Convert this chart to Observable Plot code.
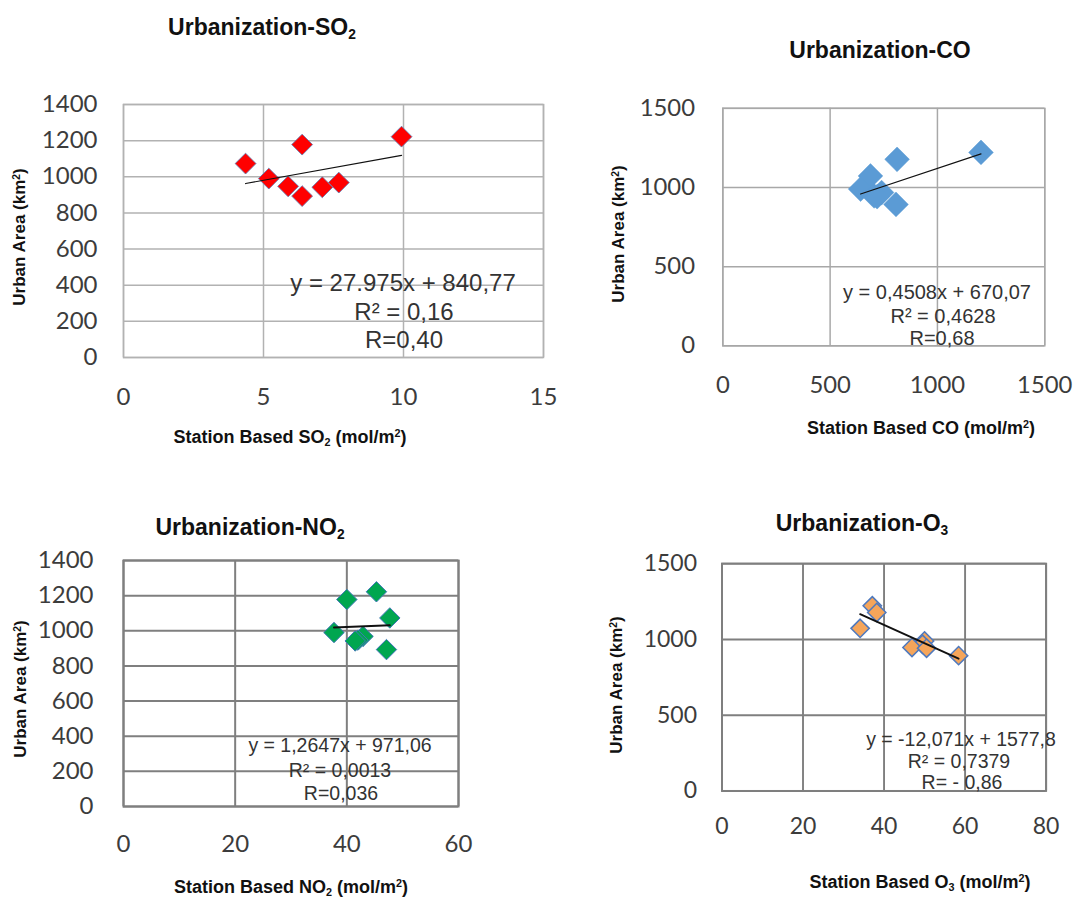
<!DOCTYPE html>
<html>
<head>
<meta charset="utf-8">
<script src="https://cdn.jsdelivr.net/npm/d3@7"></script>
<script src="https://cdn.jsdelivr.net/npm/@observablehq/plot@0.6"></script>
<style>
  html, body { margin: 0; padding: 0; background: #fff; }
  #page { position: relative; width: 1084px; height: 901px; overflow: hidden; background: #fff; }
  .abs { position: absolute; transform: translate(-50%, -50%); white-space: nowrap; }
  .title { font-family: "Liberation Sans", Arial, sans-serif; font-weight: bold; font-size: 23px; color: #111; }
  .xtitle { font-family: "Liberation Sans", Arial, sans-serif; font-weight: bold; font-size: 18px; color: #111; }
  .ytitle { font-family: "Liberation Sans", Arial, sans-serif; font-weight: bold; font-size: 17px; color: #111; transform: translate(-50%, -50%) rotate(-90deg); }
  .eq { font-family: "Liberation Sans", Arial, sans-serif; color: #333; text-align: center; }
  sub { font-size: 0.6em; vertical-align: -0.35em; line-height: 0; }
  sup { font-size: 0.6em; vertical-align: 0.5em; line-height: 0; }
  .plotbox { position: absolute; }
  .plotbox svg { overflow: visible; }
</style>
</head>
<body>
<div id="page"></div>
<script>
// ---------- data ----------
// Urban area (km²) of the eight cities
const urbanArea = [1222, 1178, 1073, 990, 968, 947, 942, 893];

// Station-based pollutant values for the same cities (mol/m²)
const so2 = [9.93, 6.38, 4.36, 5.19, 7.69, 5.88, 7.10, 6.38];
const co  = [1203, 812, 688, 642, 740, 705, 719, 807];
const no2 = [45.3, 40.0, 47.7, 37.7, 42.9, 42.0, 41.5, 47.1];
const o3  = [37.1, 38.2, 34.1, 50.0, 49.5, 46.9, 50.5, 58.4];

// Trend-line equations shown on the charts
const slopes     = [27.975, 0.4508, 1.2647, -12.071];
const intercepts = [840.77, 670.07, 971.06, 1577.8];
const eqLabels = [
  ["y = 27.975x + 840,77", "R² = 0,16", "R=0,40"],
  ["y = 0,4508x + 670,07", "R² = 0,4628", "R=0,68"],
  ["y = 1,2647x + 971,06", "R² = 0,0013", "R=0,036"],
  ["y = -12,071x + 1577,8", "R² = 0,7379", "R= - 0,86"]
];

// Tick labels
const xTicksSO2 = [0, 5, 10, 15];
const xTicksCO  = [0, 500, 1000, 1500];
const xTicksNO2 = [0, 20, 40, 60];
const xTicksO3  = [0, 20, 40, 60, 80];
const yTicks1400 = [0, 200, 400, 600, 800, 1000, 1200, 1400];
const yTicks1500 = [0, 500, 1000, 1500];

// ---------- layout ----------
const panels = [
  { xs: so2, k: 0, xTicks: xTicksSO2, yTicks: yTicks1400,
    frame: [123, 543, 104, 357], yPad: 26, xPad: 30,
    fill: "#ff0000", stroke: "#5a7db5", sw: 0.8, r: 9.4, grid: "#b2b2b2", gw: 1.5, lw: 1.2,
    title: "Urbanization-SO<sub>2</sub>", tPos: [262, 27],
    xt: "Station Based SO<sub>2</sub> (mol/m<sup>2</sup>)", xtPos: [290, 437],
    ytPos: [20, 237],
    eqPos: [[403, 283], [404, 312], [404, 340]], eqSize: 24 },
  { xs: co, k: 1, xTicks: xTicksCO, yTicks: yTicks1500,
    frame: [723, 1047, 108, 347], yPad: 28, xPad: 30,
    fill: "#5b9bd5", stroke: "#5b9bd5", sw: 0.5, r: 11.2, grid: "#a8a8a8", gw: 1.5, lw: 1.2,
    title: "Urbanization-CO", tPos: [880, 50],
    xt: "Station Based CO (mol/m<sup>2</sup>)", xtPos: [921, 428],
    ytPos: [619, 234],
    eqPos: [[937, 292], [943, 316], [942, 338]], eqSize: 20 },
  { xs: no2, k: 2, xTicks: xTicksNO2, yTicks: yTicks1400,
    frame: [123, 458, 560, 806], yPad: 30, xPad: 28,
    fill: "#00a650", stroke: "#3f77b8", sw: 1, r: 9.2, grid: "#7f7f7f", gw: 2, lw: 2,
    title: "Urbanization-NO<sub>2</sub>", tPos: [250, 527],
    xt: "Station Based NO<sub>2</sub> (mol/m<sup>2</sup>)", xtPos: [291, 887],
    ytPos: [21, 689],
    eqPos: [[340, 745], [340, 770], [341, 793]], eqSize: 19.5 },
  { xs: o3, k: 3, xTicks: xTicksO3, yTicks: yTicks1500,
    frame: [726, 1064, 564, 801], yPad: 26, xPad: 28,
    fill: "#f5a55a", stroke: "#4f79bd", sw: 1.6, r: 8.6, grid: "#7f7f7f", gw: 2, lw: 2,
    title: "Urbanization-O<sub>3</sub>", tPos: [862, 523],
    xt: "Station Based O<sub>3</sub> (mol/m<sup>2</sup>)", xtPos: [920, 882],
    ytPos: [617, 685],
    eqPos: [[961, 739], [959, 761], [962, 782]], eqSize: 19.5 }
];

const page = document.getElementById("page");
const ML = 110, MR = 40, MT = 20, MB = 60;

function addText(cls, html, [x, y], extra) {
  const d = document.createElement("div");
  d.className = "abs " + cls;
  d.innerHTML = html;
  d.style.left = x + "px";
  d.style.top = y + "px";
  if (extra) Object.assign(d.style, extra);
  page.appendChild(d);
}

for (const p of panels) {
  const [fx0, fx1, fy0, fy1] = p.frame;
  const data = p.xs.map((x, i) => ({ x, y: urbanArea[i] }));
  const [xa, xb] = d3.extent(p.xs);
  const trend = [xa, xb].map(x => ({ x, y: slopes[p.k] * x + intercepts[p.k] }));
  const xDom = d3.extent(p.xTicks), yDom = d3.extent(p.yTicks);

  const chart = Plot.plot({
    width: (fx1 - fx0) + ML + MR,
    height: (fy1 - fy0) + MT + MB,
    marginLeft: ML, marginRight: MR, marginTop: MT, marginBottom: MB,
    x: { domain: xDom },
    y: { domain: yDom },
    style: { fontFamily: "Lato, 'Open Sans', sans-serif", fontSize: "24px", color: "#3c3c3c", background: "transparent", overflow: "visible" },
    marks: [
      Plot.gridX(p.xTicks, { stroke: p.grid, strokeOpacity: 1, strokeWidth: p.gw }),
      Plot.gridY(p.yTicks, { stroke: p.grid, strokeOpacity: 1, strokeWidth: p.gw }),
      Plot.frame({ stroke: p.grid, strokeWidth: p.gw }),
      Plot.axisX(p.xTicks, { tickSize: 0, tickPadding: p.xPad, label: null, tickFormat: d => String(d) }),
      Plot.axisY(p.yTicks, { tickSize: 0, tickPadding: p.yPad, label: null, tickFormat: d => String(d) }),
      Plot.dot(data, { x: "x", y: "y", symbol: "diamond2", r: p.r, fill: p.fill, stroke: p.stroke, strokeWidth: p.sw }),
      Plot.line(trend, { x: "x", y: "y", stroke: "#111", strokeWidth: p.lw })
    ]
  });
  const box = document.createElement("div");
  box.className = "plotbox";
  box.style.left = (fx0 - ML) + "px";
  box.style.top = (fy0 - MT) + "px";
  box.appendChild(chart);
  page.appendChild(box);

  addText("title", p.title, p.tPos);
  addText("xtitle", p.xt, p.xtPos);
  addText("ytitle", "Urban Area (km<sup>2</sup>)", p.ytPos);
  eqLabels[p.k].forEach((t, i) => addText("eq", t, p.eqPos[i], { fontSize: p.eqSize + "px" }));
}
</script>
</body>
</html>
